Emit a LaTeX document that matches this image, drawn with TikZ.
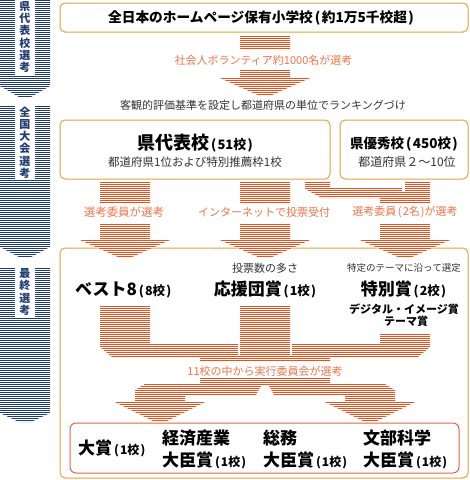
\documentclass[tikz,border=0pt]{standalone}
\usepackage{fontspec}
\setmainfont{Noto Sans CJK JP}
\definecolor{navy}{HTML}{1F3B73}
\definecolor{stripeor}{HTML}{E8501C}
\definecolor{lblor}{HTML}{F0744A}
\definecolor{goldb}{HTML}{E5A23A}
\definecolor{redb}{HTML}{E06444}
\definecolor{txtgray}{HTML}{333333}
\newcommand\stripefill[4]{%
  \begin{scope}
  \clip #4;
  \foreach \yy in {#2,...,#3}{%
    \ifodd\yy\relax\else\draw[#1,line width=1pt] (0,\yy+0.5) -- (470,\yy+0.5);\fi}
  \end{scope}}
\newcommand\fs[1]{\fontsize{#1}{#1}\selectfont}
\newcommand\lp{\hspace{0.15em}(\hspace{0.1em}}
\newcommand\rp{\hspace{0.1em})}
\begin{document}
\begin{tikzpicture}[x=1pt,y=-1pt,
  goldbox/.style={draw=goldb, line width=1pt, rounded corners=5pt},
  redbox/.style={draw=redb, line width=1pt, rounded corners=6pt},
  lbl/.style={text=lblor, inner sep=0pt, font=\fs{11}},
  sub/.style={text=txtgray, inner sep=0pt, font=\fs{11.5}},
  ttl/.style={text=black, inner sep=0pt, font=\bfseries},
  sidetext/.style={align=center, text=navy, inner sep=0pt, font=\bfseries\fontsize{11}{12.2}\selectfont}]
\useasboundingbox (0,0) rectangle (470,480);
\fill[white] (0,0) rectangle (470,480);

% ---------- sidebar ----------
\stripefill{navy}{0}{97}{(0,0)--(50,0)--(50,86)--(31,97)--(19,97)--(0,86)--cycle}
\stripefill{navy}{106}{257}{(0,106)--(50,106)--(50,247)--(31,257)--(19,257)--(0,247)--cycle}
\stripefill{navy}{268}{422}{(0,268)--(50,268)--(50,413)--(31,422)--(19,422)--(0,413)--cycle}
\fill[white] (15,0) rectangle (35,75);
\fill[white] (15,106) rectangle (35,179);
\fill[white] (15,268) rectangle (35,318);
\node[sidetext] (s1) at (25,37) {県\\代\\表\\校\\選\\考};
\node[sidetext] (s2) at (25,142.5) {全\\国\\大\\会\\選\\考};
\node[sidetext] (s3) at (25,292) {最\\終\\選\\考};

% ---------- boxes ----------
\draw[goldbox] (60,3) rectangle (468,32);
\node[ttl, font=\bfseries\fs{13.7}] (b1) at (261,18) {全日本のホームページ保有小学校\lp 約1万5千校超\rp};

\node[lbl] (l1) at (263.5,60) {社会人ボランティア約1000名が選考};
\node[sub, font=\fs{11}] (t2) at (263,105) {客観的評価基準を設定し都道府県の単位でランキングづけ};

\draw[goldbox] (60,120) rectangle (330,179);
\node[ttl] (b2) at (195,143) {\fs{18}県代表校\fs{13}\lp 51校\rp};
\node[sub] (b2s) at (195,162) {都道府県1位および特別推薦枠1校};

\draw[goldbox] (340,120) rectangle (468,179);
\node[ttl] (b3) at (404,144) {\fs{13.5}県優秀校\lp 450校\rp};
\node[sub, font=\fs{12}] (b3s) at (407,162) {都道府県２〜10位};

\node[lbl, font=\fs{11.5}] (l2a) at (124,212) {選考委員が選考};
\node[lbl] (l2b) at (264,212) {インターネットで投票受付};
\node[lbl] (l2c) at (405,212) {選考委員\lp 2名\rp が選考};

\draw[goldbox] (60,248) rectangle (468,478);

% ---------- stripes (orange) ----------
\stripefill{stripeor}{35}{49}{(240,35) rectangle (290,49)}
\stripefill{stripeor}{69}{95}{(240,69)--(290,69)--(290,78)--(310,78)--(272,95)--(258,95)--(220,78)--(240,78)--cycle}
\stripefill{stripeor}{182}{203}{(100,182) rectangle (150,203)}
\stripefill{stripeor}{182}{203}{(240,182) rectangle (290,203)}
\stripefill{stripeor}{182}{203}{(305,182)--(330,182)--(330,187)--(402,187)--(402,192)--(380,192)--(380,198)--(322,198)--(305,189)--cycle}
\stripefill{stripeor}{182}{203}{(405,182)--(430,182)--(430,203)--(380,203)--(380,192)--(405,192)--cycle}
\foreach \c in {125,265,405}{
  \fill[white] (\c-45,241)--(\c+45,241)--(\c+7,257)--(\c-7,257)--cycle;
  \stripefill{stripeor}{223}{257}{(\c-25,223)--(\c+25,223)--(\c+25,240)--(\c+45,240)--(\c+7,257)--(\c-7,257)--(\c-45,240)--(\c-25,240)--cycle}
}
\stripefill{stripeor}{306}{357}{(100,306)--(150,306)--(150,344)--(238,344)--(238,357)--(112,357)--(100,347)--cycle}
\stripefill{stripeor}{306}{357}{(240,306) rectangle (290,357)}
\stripefill{stripeor}{333}{357}{(380,333)--(430,333)--(430,347)--(418,357)--(292,357)--(292,344)--(380,344)--cycle}
\stripefill{stripeor}{355}{361}{(200,355) rectangle (330,361)}
\stripefill{stripeor}{378}{385}{(200,378) rectangle (330,385)}
\stripefill{stripeor}{384}{421}{(145,384)--(262,384)--(256,395)--(185,395)--(185,402)--(205,402)--(167,421)--(153,421)--(115,402)--(135,402)--(135,390)--cycle}
\stripefill{stripeor}{384}{421}{(385,384)--(268,384)--(274,395)--(345,395)--(345,402)--(325,402)--(363,421)--(377,421)--(415,402)--(395,402)--(395,390)--cycle}

% ---------- box 4 contents ----------
\node[sub, font=\fs{11}] (n1) at (265,268) {投票数の多さ};
\node[sub, font=\fs{9.5}] (n2) at (404,268) {特定のテーマに沿って選定};
\node[ttl, anchor=west] (best) at (75,290) {\fs{17}ベスト8\fs{12.5}\lp 8校\rp};
\node[ttl] (oen) at (265,290) {\fs{17}応援団賞\fs{12.5}\lp 1校\rp};
\node[ttl] (tok) at (403.5,290) {\fs{17}特別賞\fs{12.5}\lp 2校\rp};
\node[ttl, font=\bfseries\fs{11}] (dig) at (404,309) {デジタル・イメージ賞};
\node[ttl, font=\bfseries\fs{11}] (tema) at (406,321) {テーマ賞};

\node[lbl] (l3) at (265,371) {11校の中から実行委員会が選考};

\draw[redbox] (70,423) rectangle (459,473);
\node[ttl, anchor=west] (taisho) at (78,448) {\fs{17}大賞\fs{12}\lp 1校\rp};
\node[ttl, anchor=west] (kei1) at (162,438) {\fs{17}経済産業};
\node[ttl, anchor=west] (kei2) at (162,460) {\fs{17}大臣賞\fs{12}\lp 1校\rp};
\node[ttl, anchor=west] (som1) at (263,438) {\fs{17}総務};
\node[ttl, anchor=west] (som2) at (263,460) {\fs{17}大臣賞\fs{12}\lp 1校\rp};
\node[ttl, anchor=west] (mon1) at (363,438) {\fs{17}文部科学};
\node[ttl, anchor=west] (mon2) at (363,460) {\fs{17}大臣賞\fs{12}\lp 1校\rp};
\end{tikzpicture}
\end{document}
